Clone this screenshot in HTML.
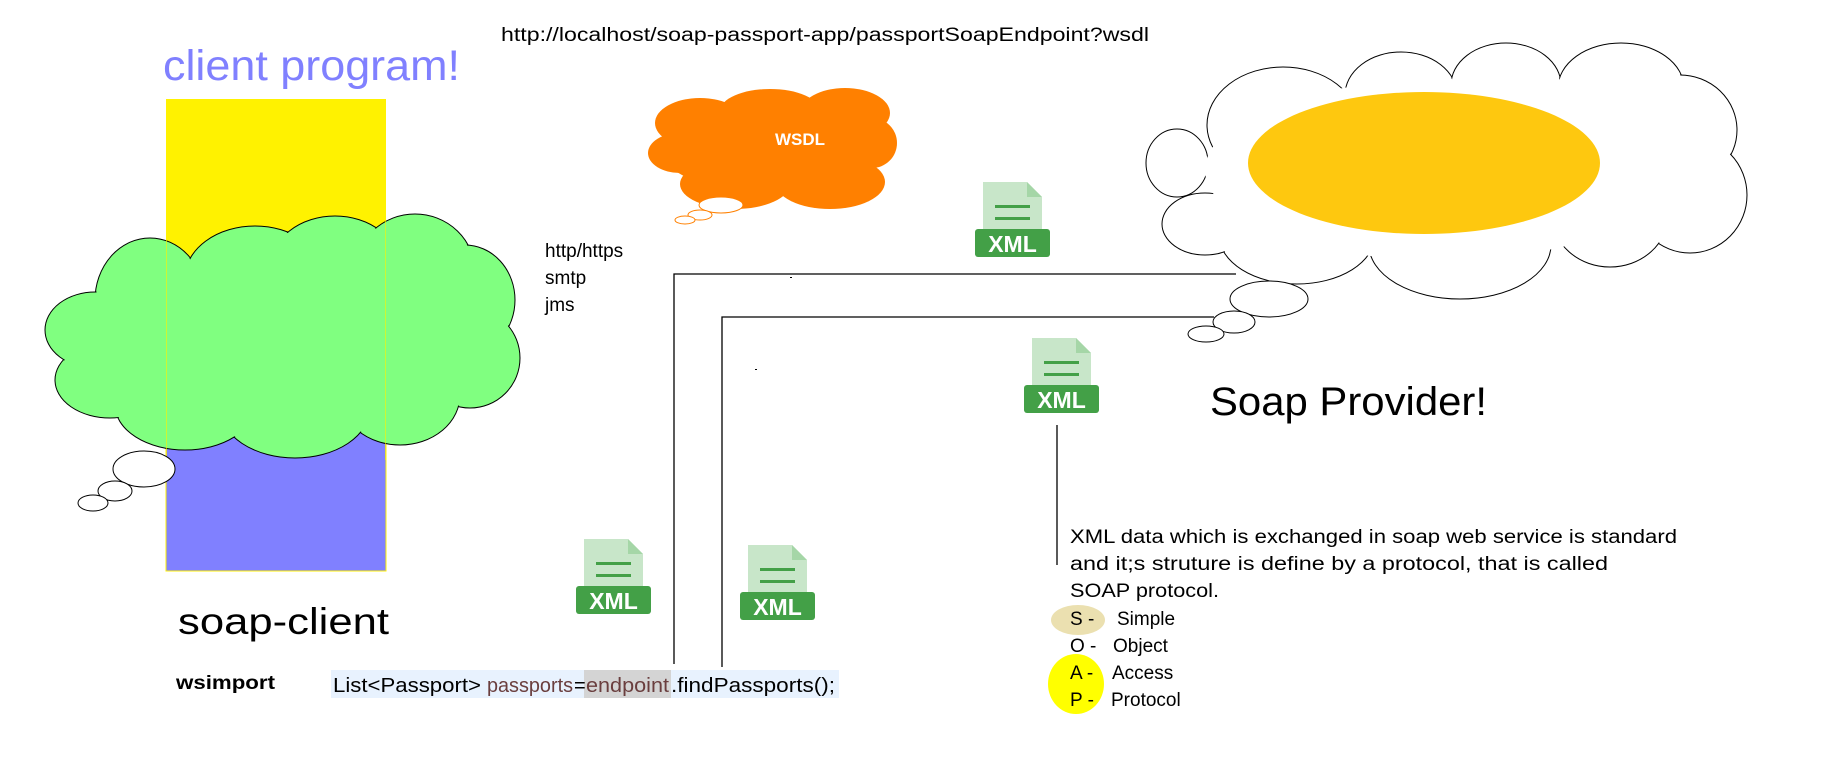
<!DOCTYPE html>
<html><head><meta charset="utf-8"><style>
html,body{margin:0;padding:0;background:#fff;}
svg{display:block;}
text{font-family:"Liberation Sans",sans-serif;}
</style></head><body>
<svg width="1848" height="777" viewBox="0 0 1848 777" xmlns="http://www.w3.org/2000/svg">
<defs>
<g id="xml">
  <path d="M8 0 H52 L67 15 V58 H8 Z" fill="#c8e6c9"/>
  <path d="M52 0 L67 15 H52 Z" fill="#a5d6a7"/>
  <rect x="20" y="23" width="35" height="3" fill="#43a047"/>
  <rect x="20" y="35" width="35" height="3" fill="#43a047"/>
  <rect x="0" y="47" width="75" height="28" rx="3" fill="#43a047"/>
  <text x="37.5" y="70" font-size="23" font-weight="bold" fill="#fff" text-anchor="middle">XML</text>
</g>
</defs>

<text x="501" y="41" font-size="19" textLength="648" lengthAdjust="spacingAndGlyphs">http://localhost/soap-passport-app/passportSoapEndpoint?wsdl</text>

<text x="163" y="80" font-size="43" fill="#8080ff" textLength="297" lengthAdjust="spacingAndGlyphs">client program!</text>

<rect x="166" y="99" width="220" height="300" fill="#fff200"/>
<rect x="166" y="380" width="220" height="191" fill="#8080ff" stroke="#fff200" stroke-width="1"/>

<!-- green cloud -->
<g fill="#80ff80" stroke="#000" stroke-width="1">
<ellipse cx="150" cy="300" rx="55" ry="62"/><ellipse cx="255" cy="278" rx="70" ry="52"/>
<ellipse cx="335" cy="268" rx="65" ry="52"/><ellipse cx="415" cy="272" rx="60" ry="58"/>
<ellipse cx="465" cy="300" rx="50" ry="55"/><ellipse cx="470" cy="358" rx="50" ry="50"/>
<ellipse cx="400" cy="395" rx="60" ry="50"/><ellipse cx="295" cy="408" rx="75" ry="50"/>
<ellipse cx="185" cy="405" rx="70" ry="45"/><ellipse cx="110" cy="380" rx="55" ry="38"/>
<ellipse cx="95" cy="330" rx="50" ry="38"/>
</g>
<g fill="#80ff80">
<ellipse cx="150" cy="300" rx="54" ry="61"/><ellipse cx="255" cy="278" rx="69" ry="51"/>
<ellipse cx="335" cy="268" rx="64" ry="51"/><ellipse cx="415" cy="272" rx="59" ry="57"/>
<ellipse cx="465" cy="300" rx="49" ry="54"/><ellipse cx="470" cy="358" rx="49" ry="49"/>
<ellipse cx="400" cy="395" rx="59" ry="49"/><ellipse cx="295" cy="408" rx="74" ry="49"/>
<ellipse cx="185" cy="405" rx="69" ry="44"/><ellipse cx="110" cy="380" rx="54" ry="37"/>
<ellipse cx="95" cy="330" rx="49" ry="37"/><ellipse cx="290" cy="340" rx="150" ry="75"/>
</g>
<line x1="166.5" y1="208" x2="166.5" y2="460" stroke="#fff200" stroke-width="1" opacity="0.6"/>
<line x1="385.5" y1="208" x2="385.5" y2="460" stroke="#fff200" stroke-width="1" opacity="0.6"/>
<g fill="#fff" stroke="#000" stroke-width="1">
<ellipse cx="144" cy="469" rx="31" ry="18"/><ellipse cx="115" cy="491" rx="17" ry="10"/><ellipse cx="93" cy="503" rx="15" ry="8"/>
</g>

<!-- orange cloud -->
<g fill="#ff8000">
<ellipse cx="700" cy="123" rx="45" ry="25"/><ellipse cx="770" cy="111" rx="50" ry="22"/>
<ellipse cx="845" cy="113" rx="45" ry="25"/><ellipse cx="872" cy="143" rx="25" ry="25"/>
<ellipse cx="830" cy="182" rx="55" ry="27"/><ellipse cx="735" cy="184" rx="55" ry="25"/>
<ellipse cx="680" cy="153" rx="32" ry="20"/><ellipse cx="770" cy="148" rx="110" ry="45"/>
</g>
<text x="800" y="145" font-size="17" font-weight="bold" fill="#fff" text-anchor="middle">WSDL</text>
<g fill="#fff" stroke="#ff8000" stroke-width="1">
<ellipse cx="721" cy="205" rx="22" ry="8"/><ellipse cx="700" cy="215" rx="12" ry="5"/><ellipse cx="685" cy="220" rx="10" ry="4"/>
</g>

<text font-size="19"><tspan x="545" y="257">http/https</tspan><tspan x="545" y="284">smtp</tspan><tspan x="545" y="311">jms</tspan></text>

<!-- right cloud -->
<g fill="#fff" stroke="#000" stroke-width="1">
<ellipse cx="1283" cy="125" rx="76" ry="58"/><ellipse cx="1401" cy="95" rx="56" ry="43"/>
<ellipse cx="1506" cy="85" rx="55" ry="42"/><ellipse cx="1621" cy="88" rx="63" ry="45"/>
<ellipse cx="1680" cy="130" rx="57" ry="55"/><ellipse cx="1690" cy="195" rx="57" ry="58"/>
<ellipse cx="1610" cy="215" rx="58" ry="52"/><ellipse cx="1460" cy="245" rx="91" ry="54"/>
<ellipse cx="1297" cy="235" rx="78" ry="49"/><ellipse cx="1205" cy="224" rx="43" ry="31"/>
<ellipse cx="1177" cy="163" rx="31" ry="34"/>
</g>
<g fill="#fff">
<ellipse cx="1283" cy="125" rx="75" ry="57"/><ellipse cx="1401" cy="95" rx="55" ry="42"/>
<ellipse cx="1506" cy="85" rx="54" ry="41"/><ellipse cx="1621" cy="88" rx="62" ry="44"/>
<ellipse cx="1680" cy="130" rx="56" ry="54"/><ellipse cx="1690" cy="195" rx="56" ry="57"/>
<ellipse cx="1610" cy="215" rx="57" ry="51"/><ellipse cx="1460" cy="245" rx="90" ry="53"/>
<ellipse cx="1297" cy="235" rx="77" ry="48"/><ellipse cx="1205" cy="224" rx="42" ry="30"/>
<ellipse cx="1177" cy="163" rx="30" ry="33"/><ellipse cx="1440" cy="170" rx="235" ry="90"/>
</g>
<ellipse cx="1424" cy="163" rx="176" ry="71" fill="#fec80f"/>

<!-- connector lines -->
<g stroke="#000" stroke-width="1.3" fill="none">
<polyline points="674,664 674,274 1236,274"/>
<polyline points="722,667 722,317 1214,317"/>
<line x1="1057" y1="425" x2="1057" y2="565"/>
</g>
<g fill="#fff" stroke="#000" stroke-width="1">
<ellipse cx="1269" cy="299" rx="39" ry="18"/><ellipse cx="1234" cy="322" rx="21" ry="11"/><ellipse cx="1206" cy="334" rx="18" ry="8"/>
</g>
<rect x="790" y="277" width="2" height="1" fill="#000"/>
<rect x="755" y="369" width="2" height="1" fill="#000"/>

<use href="#xml" x="975" y="182"/>
<use href="#xml" x="1024" y="338"/>
<use href="#xml" x="576" y="539"/>
<use href="#xml" x="740" y="545"/>

<text x="1210" y="415" font-size="40" textLength="277" lengthAdjust="spacingAndGlyphs">Soap Provider!</text>

<text x="178" y="634" font-size="37" textLength="211" lengthAdjust="spacingAndGlyphs">soap-client</text>
<text x="176" y="689" font-size="19" font-weight="bold" textLength="99" lengthAdjust="spacingAndGlyphs">wsimport</text>

<rect x="331" y="670" width="508" height="28" fill="#e8f2fe"/>
<rect x="584" y="670" width="87" height="28" fill="#d4d4d4"/>
<text y="692" font-size="20"><tspan x="333" textLength="148" lengthAdjust="spacingAndGlyphs">List&lt;Passport&gt;</tspan><tspan x="487" fill="#6a3e3e" textLength="86" lengthAdjust="spacingAndGlyphs">passports</tspan><tspan x="574">=</tspan><tspan x="586" fill="#6a3e3e" textLength="83" lengthAdjust="spacingAndGlyphs">endpoint</tspan><tspan x="671" textLength="164" lengthAdjust="spacingAndGlyphs">.findPassports();</tspan></text>

<ellipse cx="1078" cy="620" rx="27" ry="15" fill="#ebe0b0"/>
<ellipse cx="1076" cy="684" rx="28" ry="30" fill="#ffff00"/>
<g font-size="19">
<text x="1070" y="543" textLength="607" lengthAdjust="spacingAndGlyphs">XML data which is exchanged in soap web service is standard</text>
<text x="1070" y="570" textLength="538" lengthAdjust="spacingAndGlyphs">and it;s struture is define by a protocol, that is called</text>
<text x="1070" y="597" textLength="149" lengthAdjust="spacingAndGlyphs">SOAP protocol.</text>
<text x="1070" y="625">S -</text><text x="1117" y="625">Simple</text>
<text x="1070" y="652">O -</text><text x="1113" y="652">Object</text>
<text x="1070" y="679">A -</text><text x="1112" y="679">Access</text>
<text x="1070" y="706">P -</text><text x="1111" y="706">Protocol</text>
</g>
</svg>
</body></html>
